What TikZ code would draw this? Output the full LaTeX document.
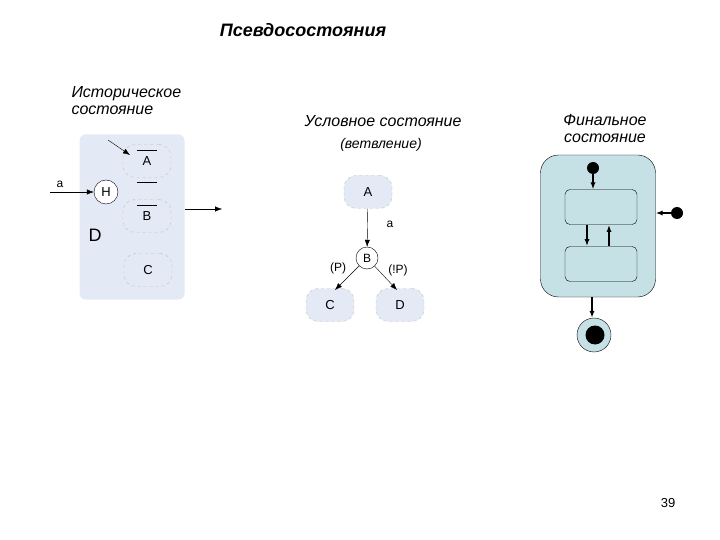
\documentclass[tikz,border=0pt]{standalone}
\usepackage{fontspec}
\setmainfont{Liberation Sans}
\usetikzlibrary{arrows.meta}
\definecolor{lb}{HTML}{E3E9F5}
\definecolor{tb}{HTML}{C6E1E5}
\begin{document}
\begin{tikzpicture}[x=1pt,y=-1pt,
 st/.style={draw=gray!50,dashed,fill=lb,rounded corners=12pt,minimum width=48pt,minimum height=33pt,font=\fontsize{13}{15}\selectfont},
 circ/.style={circle,draw,fill=white,minimum size=24pt,inner sep=0pt,font=\fontsize{13}{15}\selectfont},
 ar/.style={-{Latex[length=7pt]}},
 bar/.style={-{Latex[length=7pt]},line width=2pt},
 ttl/.style={font=\itshape\fontsize{16}{17}\selectfont,align=left},
 lab/.style={font=\fontsize{12}{14}\selectfont},
 inner/.style={draw,rounded corners=5pt,minimum width=72pt,minimum height=35pt}]
\useasboundingbox (0,0) rectangle (720,540);
\node[font=\bfseries\itshape\fontsize{18}{20}\selectfont] (t0) at (303,30) {Псевдосостояния};
% left
\node[ttl,anchor=north west] (t1) at (68,83) {Историческое\\состояние};
\node[fill=lb,rounded corners=6pt,minimum width=105pt,minimum height=165pt] (D) at (132,217) {};
\node[st] (A) at (147,161) {A};
\node[st] (B) at (147,216) {B};
\node[st] (C) at (148,270) {C};
\node[circ] (H) at (106,192) {H};
\node[font=\fontsize{18}{20}\selectfont] (Dl) at (95,235) {D};
\coordinate (s0) at (108,140);
\draw[ar] (s0) -- (130,155);
\draw (137,150) -- (157,150) (137,182) -- (157,182) (137,205) -- (157,205);
\coordinate (ain) at (50,192);
\draw[ar] (ain) -- (H);
\node[lab] (al) at (60,184) {a};
\coordinate (o1) at (185,209); \coordinate (o2) at (222,209);
\draw[ar] (o1) -- (o2);
% middle
\node[ttl] (t2) at (383,121) {Условное состояние};
\node[ttl,font=\itshape\fontsize{14}{16}\selectfont] (t3) at (381,145) {(ветвление)};
\node[st] (mA) at (368,192) {A};
\node[circ,minimum size=22pt,font=\fontsize{12}{14}\selectfont] (mB) at (367,258) {B};
\node[st] (mC) at (330,305) {C};
\node[st] (mD) at (400,305) {D};
\draw[ar] (mA) -- (mB);
\coordinate (ec) at (335,290); \coordinate (ed) at (397,290);
\draw[ar] (mB) -- (ec);
\draw[ar] (mB) -- (ed);
\node[lab] (la) at (390,224) {a};
\node[lab] (lp) at (338,268) {(P)};
\node[lab] (lnp) at (398,270) {(!P)};
% right
\node[ttl,align=center] (t4) at (605,129) {Финальное\\состояние};
\node[draw,fill=tb,rounded corners=18pt,minimum width=115pt,minimum height=142pt] (R) at (598,226) {};
\node[inner] (r1) at (601,207) {};
\node[inner] (r2) at (601,264) {};
\node[circle,fill=black,minimum size=12pt,inner sep=0pt] (i0) at (593,168) {};
\draw[bar] (i0) -- (r1.north -| i0);
\draw[bar] (587,225) -- (587,246);
\draw[bar] (609,246) -- (609,225);
\node[circle,fill=black,minimum size=12pt,inner sep=0pt] (i1) at (677,213) {};
\draw[bar] (i1) -- (R.east |- i1);
\node[circle,draw,fill=tb,minimum size=34pt,inner sep=0pt] (F) at (594,335) {};
\node[circle,fill=black,minimum size=19pt,inner sep=0pt] (Fi) at (595,335) {};
\draw[bar] (R.south -| 592,0) -- (F.north -| 592,0);
\node[font=\fontsize{13}{15}\selectfont] (pg) at (668,503) {39};
\end{tikzpicture}
\end{document}
